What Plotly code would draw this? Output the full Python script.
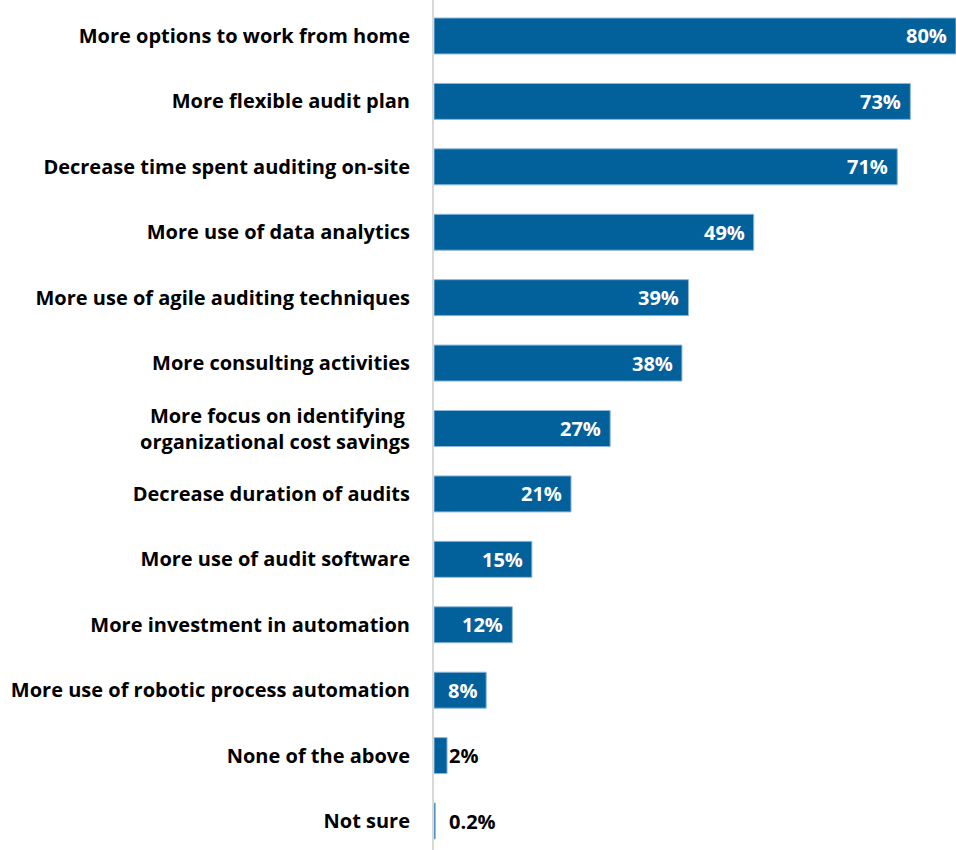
import plotly.graph_objects as go

# Survey responses: expected changes to internal audit
categories = [
    "More options to work from home",
    "More flexible audit plan",
    "Decrease time spent auditing on-site",
    "More use of data analytics",
    "More use of agile auditing techniques",
    "More consulting activities",
    "More focus on identifying <br>organizational cost savings",
    "Decrease duration of audits",
    "More use of audit software",
    "More investment in automation",
    "More use of robotic process automation",
    "None of the above",
    "Not sure",
]
values = [80, 73, 71, 49, 39, 38, 27, 21, 15, 12, 8, 2, 0.2]
labels = ["80%", "73%", "71%", "49%", "39%", "38%", "27%", "21%", "15%",
          "12%", "8%", "2%", "0.2%"]

BAR = "#02609A"
FONT = "Open Sans"
FSIZE = 20

fig = go.Figure(
    go.Bar(
        x=values,
        y=categories,
        orientation="h",
        marker=dict(color=BAR, line=dict(color="#8DB8DC", width=1)),
        width=0.55,
        hoverinfo="skip",
    )
)

# Value labels: inside the bar end for wide bars, just past it for short ones
annotations = []
for cat, v, lab in zip(categories, values, labels):
    if v >= 5:
        annotations.append(dict(
            x=v, y=cat, text=lab, showarrow=False, xanchor="right",
            xshift=-7, font=dict(family=FONT, size=FSIZE, color="white", weight="bold"),
        ))
    else:
        annotations.append(dict(
            x=max(v, 2), y=cat, text=lab, showarrow=False, xanchor="left",
            xshift=0, font=dict(family=FONT, size=FSIZE, color="black", weight="bold"),
        ))

fig.update_layout(
    width=956,
    height=850,
    margin=dict(l=434, r=0, t=0, b=0),
    paper_bgcolor="white",
    plot_bgcolor="white",
    showlegend=False,
    annotations=annotations,
    xaxis=dict(range=[0, 80], visible=False, fixedrange=True),
    yaxis=dict(
        categoryorder="array",
        categoryarray=categories,
        range=[12.443, -0.55],
        showline=True,
        linecolor="#D9D9D9",
        linewidth=2,
        showgrid=False,
        ticks="",
        ticklabelstandoff=18,
        tickfont=dict(family=FONT, size=FSIZE, color="black", weight="bold"),
        fixedrange=True,
    ),
)

fig.write_html("out.html")
